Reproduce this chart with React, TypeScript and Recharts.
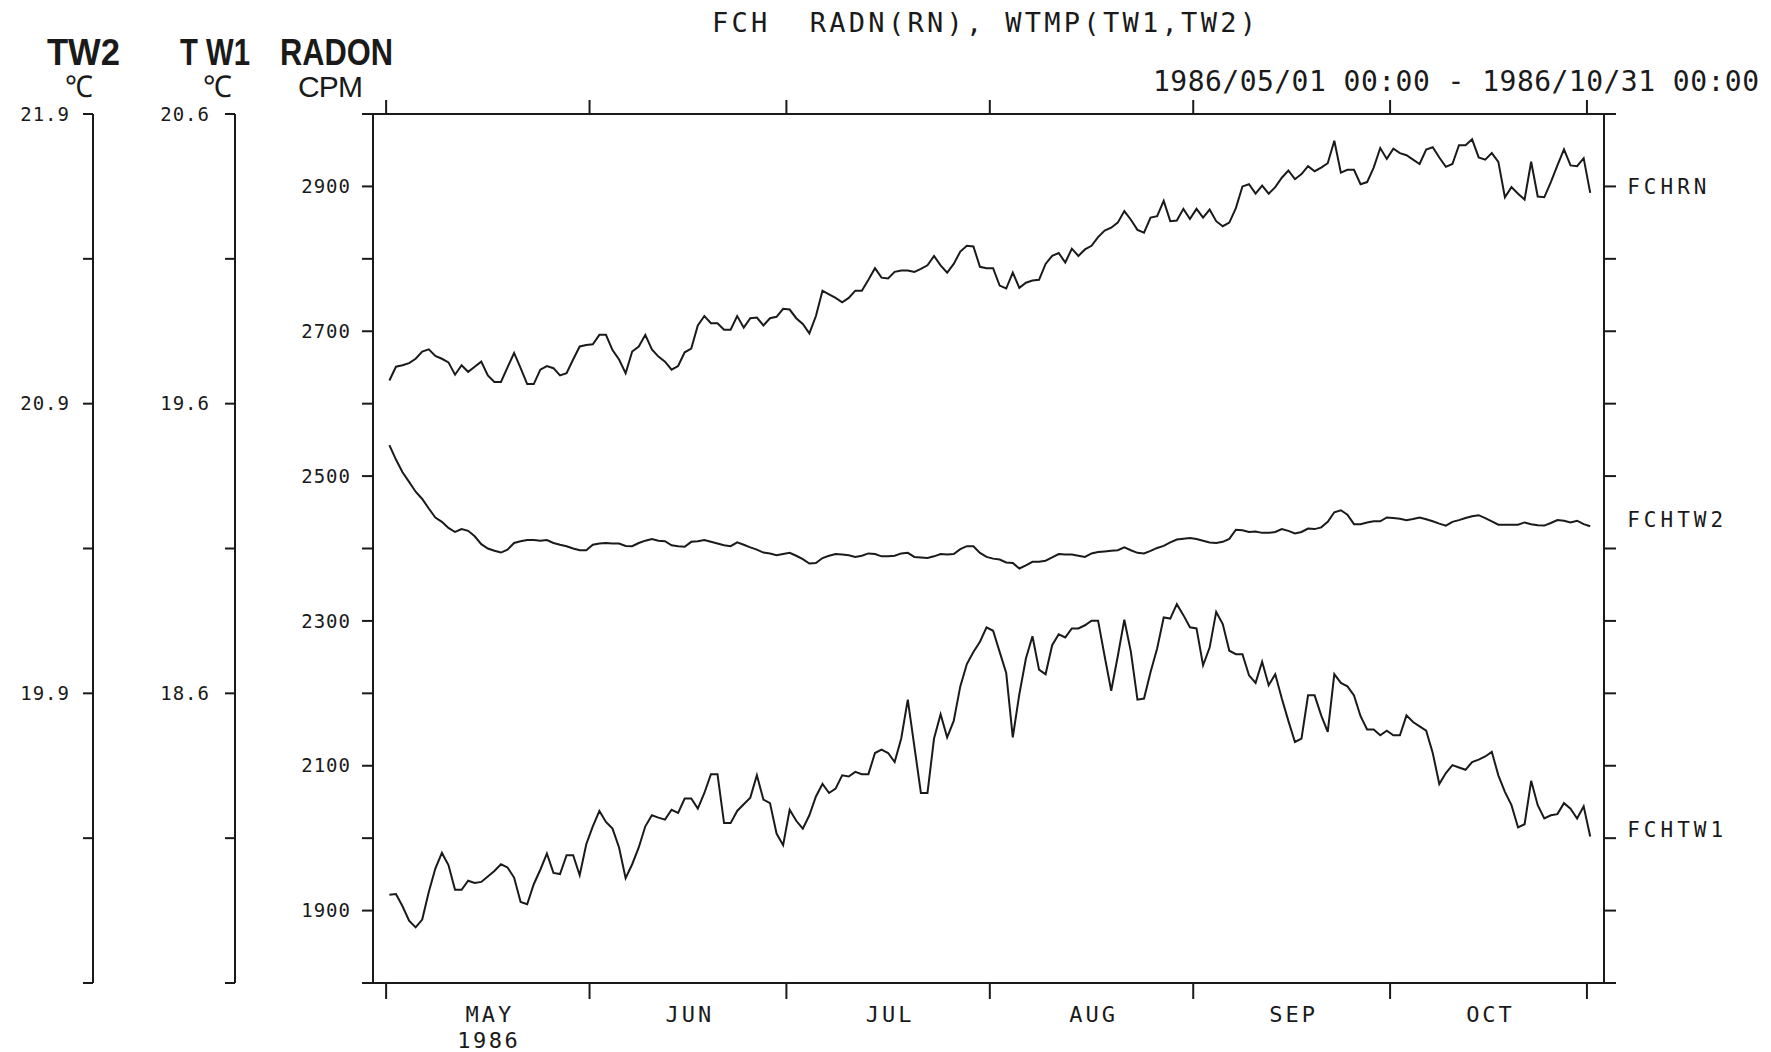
import { LineChart, Line, XAxis, YAxis, LabelList } from 'recharts';

// daily values, 1986/05/01 .. 1986/10/31
const radon = [
  2632, 2651, 2653, 2656, 2662, 2672, 2675, 2666, 2662, 2657,
  2640, 2653, 2644, 2651, 2658, 2639, 2630, 2630, 2650, 2670,
  2649, 2627, 2627, 2647, 2652, 2649, 2639, 2642, 2661, 2679,
  2681, 2682, 2695, 2695, 2674, 2661, 2642, 2672, 2679, 2695,
  2675, 2665, 2658, 2647, 2652, 2671, 2676, 2708, 2721, 2711,
  2711, 2702, 2702, 2721, 2705, 2718, 2719, 2708, 2718, 2720,
  2731, 2730, 2718, 2710, 2697, 2721, 2756, 2751, 2746, 2740,
  2746, 2756, 2756, 2771, 2787, 2774, 2773, 2782, 2784, 2784,
  2782, 2786, 2791, 2804, 2791, 2781, 2793, 2810, 2818, 2817,
  2789, 2787, 2787, 2763, 2759, 2781, 2760, 2767, 2770, 2771,
  2793, 2804, 2808, 2795, 2814, 2804, 2813, 2818, 2830, 2839,
  2843, 2850, 2866, 2854, 2840, 2836, 2857, 2859, 2880, 2852,
  2853, 2869, 2855, 2869, 2857, 2868, 2852, 2845, 2850, 2870,
  2900, 2903, 2890, 2901, 2890, 2899, 2912, 2922, 2910, 2917,
  2928, 2921, 2926, 2932, 2963, 2919, 2923, 2923, 2903, 2906,
  2926, 2953, 2938, 2952, 2946, 2943, 2937, 2931, 2951, 2954,
  2940, 2927, 2931, 2957, 2957, 2965, 2940, 2937, 2946, 2934,
  2885, 2899, 2890, 2882, 2934, 2886, 2885, 2906, 2929, 2951,
  2929, 2928, 2939, 2891,
];

const tw2 = [
  20.757, 20.707, 20.663, 20.630, 20.596, 20.571, 20.538, 20.507, 20.492, 20.471,
  20.457, 20.467, 20.461, 20.442, 20.415, 20.400, 20.392, 20.386, 20.396, 20.419,
  20.425, 20.429, 20.429, 20.427, 20.429, 20.419, 20.413, 20.408, 20.400, 20.394,
  20.394, 20.413, 20.417, 20.419, 20.417, 20.417, 20.409, 20.408, 20.419, 20.427,
  20.433, 20.427, 20.425, 20.411, 20.408, 20.406, 20.423, 20.425, 20.429, 20.423,
  20.417, 20.411, 20.408, 20.421, 20.413, 20.404, 20.396, 20.386, 20.383, 20.377,
  20.381, 20.385, 20.375, 20.363, 20.348, 20.350, 20.367, 20.375, 20.381, 20.379,
  20.377, 20.371, 20.375, 20.383, 20.381, 20.373, 20.373, 20.375, 20.383, 20.385,
  20.371, 20.369, 20.367, 20.373, 20.381, 20.379, 20.381, 20.398, 20.408, 20.408,
  20.385, 20.371, 20.365, 20.362, 20.352, 20.350, 20.331, 20.342, 20.354, 20.354,
  20.358, 20.369, 20.381, 20.379, 20.379, 20.375, 20.371, 20.383, 20.388, 20.390,
  20.392, 20.394, 20.404, 20.394, 20.385, 20.383, 20.392, 20.402, 20.409, 20.421,
  20.431, 20.434, 20.436, 20.433, 20.427, 20.421, 20.419, 20.423, 20.433, 20.465,
  20.463, 20.457, 20.459, 20.454, 20.454, 20.457, 20.467, 20.461, 20.452, 20.457,
  20.469, 20.467, 20.473, 20.492, 20.525, 20.532, 20.517, 20.484, 20.484, 20.490,
  20.494, 20.494, 20.507, 20.505, 20.503, 20.498, 20.502, 20.507, 20.501, 20.494,
  20.486, 20.479, 20.492, 20.498, 20.505, 20.511, 20.515, 20.505, 20.494, 20.482,
  20.482, 20.482, 20.482, 20.490, 20.484, 20.480, 20.479, 20.488, 20.498, 20.496,
  20.490, 20.496, 20.484, 20.477,
];

const tw1 = [
  17.905, 17.907, 17.865, 17.815, 17.792, 17.819, 17.914, 17.995, 18.049, 18.007,
  17.922, 17.922, 17.953, 17.945, 17.949, 17.968, 17.987, 18.010, 17.999, 17.964,
  17.880, 17.872, 17.941, 17.991, 18.047, 17.980, 17.976, 18.041, 18.041, 17.972,
  18.079, 18.141, 18.194, 18.156, 18.133, 18.068, 17.962, 18.010, 18.068, 18.141,
  18.179, 18.171, 18.164, 18.198, 18.187, 18.237, 18.237, 18.202, 18.256, 18.321,
  18.321, 18.152, 18.152, 18.194, 18.217, 18.240, 18.317, 18.233, 18.221, 18.116,
  18.076, 18.198, 18.160, 18.133, 18.179, 18.244, 18.287, 18.256, 18.271, 18.317,
  18.313, 18.329, 18.321, 18.321, 18.394, 18.406, 18.394, 18.363, 18.444, 18.578,
  18.417, 18.256, 18.256, 18.444, 18.528, 18.448, 18.505, 18.624, 18.701, 18.743,
  18.778, 18.828, 18.816, 18.743, 18.670, 18.448, 18.597, 18.720, 18.797, 18.682,
  18.666, 18.766, 18.804, 18.793, 18.824, 18.824, 18.835, 18.851, 18.851, 18.728,
  18.609, 18.728, 18.854, 18.743, 18.578, 18.582, 18.674, 18.755, 18.862, 18.858,
  18.908, 18.870, 18.828, 18.824, 18.697, 18.758, 18.881, 18.839, 18.747, 18.735,
  18.735, 18.662, 18.636, 18.709, 18.628, 18.666, 18.582, 18.505, 18.432, 18.444,
  18.593, 18.593, 18.524, 18.467, 18.666, 18.636, 18.624, 18.593, 18.521, 18.475,
  18.475, 18.455, 18.471, 18.455, 18.455, 18.524, 18.501, 18.486, 18.471, 18.394,
  18.287, 18.325, 18.352, 18.344, 18.336, 18.363, 18.371, 18.382, 18.398, 18.317,
  18.260, 18.214, 18.137, 18.148, 18.298, 18.214, 18.168, 18.179, 18.183, 18.221,
  18.202, 18.168, 18.210, 18.106,
];

// day offsets from 1986/05/01 00:00
const monthStarts = [0, 31, 61, 92, 123, 153, 183];
const monthNames = ['MAY', 'JUN', 'JUL', 'AUG', 'SEP', 'OCT'];
const yearLabel = '1986';

const radonTicks = [1800, 1900, 2000, 2100, 2200, 2300, 2400, 2500, 2600, 2700, 2800, 2900, 3000];
const radonLabels = [1900, 2100, 2300, 2500, 2700, 2900];
const tw1Ticks = [17.6, 18.1, 18.6, 19.1, 19.6, 20.1, 20.6];
const tw1Labels = [18.6, 19.6, 20.6];
const tw2Ticks = [18.9, 19.4, 19.9, 20.4, 20.9, 21.4, 21.9];
const tw2Labels = [19.9, 20.9, 21.9];

const seriesNames = { radon: 'FCHRN', tw2: 'FCHTW2', tw1: 'FCHTW1' };

const INK = '#1a1a1a';
const MONO = "'DejaVu Sans Mono', monospace";
const SANS = "'Liberation Sans', Arial, sans-serif";

const rows = radon.map((r, i) => ({ day: i + 0.5, radon: r, tw1: tw1[i], tw2: tw2[i] }));
const monthMids = monthNames.map((_, i) => (monthStarts[i] + monthStarts[i + 1]) / 2);
const xDomain = [-2, 185.6];

const tickStyle = { fontFamily: MONO, fontSize: 19, fill: INK, letterSpacing: 1 };
const axisLine = { stroke: INK, strokeWidth: 2 };

function MonthTick(props: any) {
  const { x, y, payload } = props;
  const idx = monthMids.indexOf(payload.value);
  if (idx < 0) {
    return <line x1={x} x2={x} y1={y} y2={y + 16} stroke={INK} strokeWidth={2} />;
  }
  return (
    <g fontFamily={MONO} fontSize={22} fill={INK}>
      <text x={x + 2} y={y + 39} textAnchor="middle" letterSpacing={3}>
        {monthNames[idx]}
      </text>
      {idx === 0 && (
        <text x={x + 1} y={y + 65} textAnchor="middle" letterSpacing={2.5}>
          {yearLabel}
        </text>
      )}
    </g>
  );
}

const endLabel = (name: string) => (props: any) => {
  if (props.index !== radon.length - 1) return null;
  return (
    <text
      x={Number(props.x) + 37}
      y={Number(props.y) - 6}
      dominantBaseline="central"
      fontFamily={MONO}
      fontSize={21}
      letterSpacing={4}
      fill={INK}
    >
      {name}
    </text>
  );
};

export default function App() {
  return (
    <div style={{ position: 'absolute', left: 0, top: 0, width: 1771, height: 1052, background: '#fff' }}>
      <LineChart width={1771} height={1052} data={rows} margin={{ top: 94, right: 67, bottom: 9, left: 13 }}>
        <XAxis
          xAxisId="bottom"
          dataKey="day"
          type="number"
          domain={xDomain}
          allowDataOverflow
          ticks={[...monthStarts, ...monthMids]}
          interval={0}
          tick={<MonthTick />}
          tickLine={false}
          tickSize={0}
          tickMargin={0}
          axisLine={axisLine}
          height={60}
        />
        <XAxis
          xAxisId="top"
          orientation="top"
          dataKey="day"
          type="number"
          domain={xDomain}
          allowDataOverflow
          ticks={monthStarts}
          interval={0}
          tickFormatter={() => ''}
          tickSize={14}
          tickLine={{ stroke: INK, strokeWidth: 2 }}
          axisLine={axisLine}
          height={20}
        />
        <YAxis
          yAxisId="radon"
          type="number"
          domain={[1800, 3000]}
          allowDataOverflow
          ticks={radonTicks}
          interval={0}
          tickFormatter={(v: number) => (radonLabels.includes(v) ? String(v) : '')}
          tick={tickStyle}
          tickSize={11}
          tickMargin={11}
          tickLine={{ stroke: INK, strokeWidth: 2 }}
          axisLine={axisLine}
          width={138}
        />
        <YAxis
          yAxisId="tw1"
          type="number"
          domain={[17.6, 20.6]}
          allowDataOverflow
          ticks={tw1Ticks}
          interval={0}
          tickFormatter={(v: number) => (tw1Labels.includes(v) ? v.toFixed(1) : '')}
          tick={tickStyle}
          tickSize={10}
          tickMargin={15}
          tickLine={{ stroke: INK, strokeWidth: 2 }}
          axisLine={axisLine}
          width={142}
        />
        <YAxis
          yAxisId="tw2"
          type="number"
          domain={[18.9, 21.9]}
          allowDataOverflow
          ticks={tw2Ticks}
          interval={0}
          tickFormatter={(v: number) => (tw2Labels.includes(v) ? v.toFixed(1) : '')}
          tick={tickStyle}
          tickSize={10}
          tickMargin={13}
          tickLine={{ stroke: INK, strokeWidth: 2 }}
          axisLine={axisLine}
          width={80}
        />
        <YAxis
          yAxisId="right"
          orientation="right"
          type="number"
          domain={[1800, 3000]}
          allowDataOverflow
          ticks={radonTicks}
          interval={0}
          tickFormatter={() => ''}
          tickSize={12}
          tickLine={{ stroke: INK, strokeWidth: 2 }}
          axisLine={axisLine}
          width={100}
        />
        <Line xAxisId="bottom" yAxisId="radon" type="linear" dataKey="radon" stroke={INK} strokeWidth={2} dot={false} isAnimationActive={false}>
          <LabelList dataKey="radon" content={endLabel(seriesNames.radon)} />
        </Line>
        <Line xAxisId="bottom" yAxisId="tw2" type="linear" dataKey="tw2" stroke={INK} strokeWidth={2} dot={false} isAnimationActive={false}>
          <LabelList dataKey="tw2" content={endLabel(seriesNames.tw2)} />
        </Line>
        <Line xAxisId="bottom" yAxisId="tw1" type="linear" dataKey="tw1" stroke={INK} strokeWidth={2} dot={false} isAnimationActive={false}>
          <LabelList dataKey="tw1" content={endLabel(seriesNames.tw1)} />
        </Line>
      </LineChart>

      <svg width={1771} height={1052} style={{ position: 'absolute', left: 0, top: 0, pointerEvents: 'none' }}>
        <text
          x={712}
          y={32}
          fontFamily={MONO}
          fontSize={27}
          fill={INK}
          textLength={544}
          lengthAdjust="spacing"
          style={{ whiteSpace: 'pre' }}
        >
          {'FCH  RADN(RN), WTMP(TW1,TW2)'}
        </text>
        <text x={1153} y={91} fontFamily={MONO} fontSize={28} fill={INK} textLength={606} lengthAdjust="spacing">
          1986/05/01 00:00 - 1986/10/31 00:00
        </text>
        <g fontFamily={SANS} fontWeight={700} fontSize={36} fill={INK}>
          <text x={47} y={65} textLength={73} lengthAdjust="spacingAndGlyphs">TW2</text>
          <text x={180} y={65} textLength={70} lengthAdjust="spacingAndGlyphs">T W1</text>
          <text x={280} y={65} textLength={113} lengthAdjust="spacingAndGlyphs">RADON</text>
        </g>
        <g fontFamily={SANS} fontSize={30} fill={INK}>
          <text x={65} y={97} textLength={28} lengthAdjust="spacingAndGlyphs">℃</text>
          <text x={203} y={97} textLength={29} lengthAdjust="spacingAndGlyphs">℃</text>
          <text x={298} y={97} textLength={65} lengthAdjust="spacing">CPM</text>
        </g>
      </svg>
    </div>
  );
}
